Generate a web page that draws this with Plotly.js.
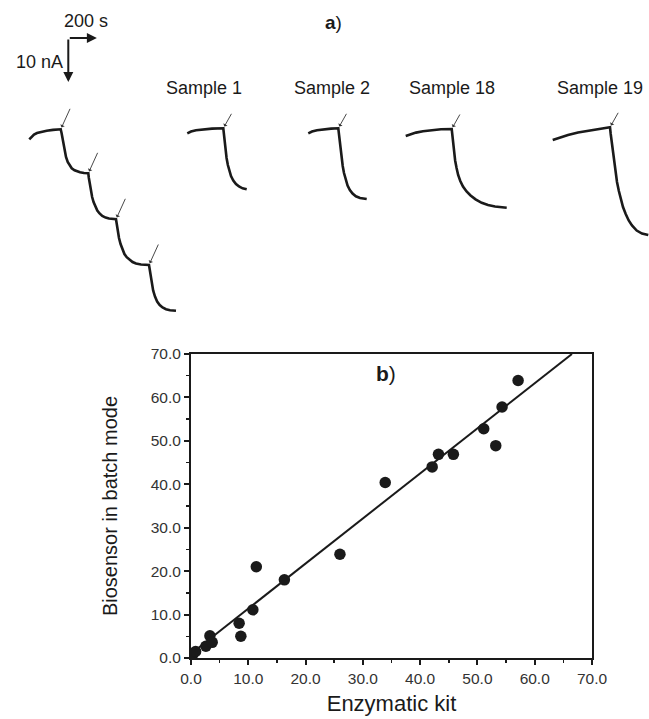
<!DOCTYPE html>
<html>
<head>
<meta charset="utf-8">
<script src="https://cdn.plot.ly/plotly-3.0.1.min.js"></script>
<style>html,body{margin:0;padding:0;background:#fff;}#chart{width:649px;height:719px;}</style>
</head>
<body>
<div id="chart"></div>
<script>
// ---------- panel a) amperometric traces (time in s, current in nA, downward = increasing) ----------
const calibTime = [205, 221, 238, 259, 287, 327, 371, 425,
  431, 438, 445, 453, 462, 474, 487, 502, 522, 543, 560, 588, 618,
  622, 629, 636, 645, 655, 667, 681, 697, 716, 739, 763, 812,
  817, 824, 833, 844, 856, 871, 887, 907, 928, 952, 987, 1043,
  1048, 1055, 1063, 1072, 1085, 1100, 1118, 1138, 1162, 1190, 1232];
const calibCurrent = [31.66, 31.02, 30.57, 30.23, 29.95, 29.70, 29.52, 29.39,
  30.23, 31.59, 33.18, 34.55, 35.68, 36.82, 37.61, 38.25, 38.70, 39.00, 39.16, 39.32, 39.39,
  40.45, 41.82, 43.41, 44.77, 45.91, 46.93, 47.84, 48.52, 49.09, 49.45, 49.68, 49.84,
  50.91, 52.50, 54.09, 55.45, 56.70, 57.73, 58.45, 59.09, 59.55, 59.89, 60.11, 60.23,
  61.36, 62.95, 64.55, 66.02, 67.39, 68.52, 69.32, 69.89, 70.27, 70.50, 70.61];
const calibInjectionTimes = [425, 618, 812, 1043];

const sampleNames = ["Sample 1", "Sample 2", "Sample 18", "Sample 19"];
const sample1Time = [1311, 1337, 1372, 1421, 1484, 1563, 1567, 1573, 1579, 1586, 1595, 1605, 1617, 1633, 1652, 1673, 1698, 1727];
const sample1Current = [30.30, 29.89, 29.59, 29.36, 29.23, 29.16, 30.45, 32.27, 34.09, 35.91, 37.50, 38.86, 40.00, 41.02, 41.82, 42.39, 42.80, 43.02];
const sample2Time = [2158, 2184, 2219, 2268, 2317, 2368, 2372, 2378, 2384, 2391, 2399, 2408, 2419, 2433, 2449, 2468, 2491, 2520, 2567];
const sample2Current = [30.30, 29.89, 29.59, 29.36, 29.23, 29.16, 30.45, 32.27, 34.09, 35.91, 37.73, 39.32, 40.91, 42.16, 43.18, 43.98, 44.61, 45.00, 45.23];
const sample18Time = [2840, 2870, 2912, 2961, 3024, 3087, 3162, 3166, 3172, 3178, 3186, 3196, 3207, 3222, 3241, 3266, 3294, 3329, 3372, 3416, 3465, 3547];
const sample18Current = [30.91, 30.52, 30.14, 29.84, 29.55, 29.39, 29.32, 30.68, 32.50, 34.55, 36.48, 38.18, 39.77, 41.14, 42.39, 43.52, 44.43, 45.30, 46.09, 46.59, 46.93, 47.20];
const sample19Time = [3869, 3920, 3976, 4046, 4130, 4200, 4270, 4275, 4282, 4290, 4298, 4308, 4319, 4332, 4346, 4361, 4380, 4401, 4424, 4457, 4494, 4538];
const sample19Current = [31.82, 31.25, 30.68, 30.11, 29.61, 29.25, 28.93, 30.45, 32.27, 34.55, 36.82, 39.09, 41.36, 43.41, 45.34, 47.05, 48.64, 50.11, 51.25, 52.39, 53.07, 53.41];

// scale bar
const scaleTime = 200;      // s
const scaleCurrent = 10;    // nA

// ---------- panel b) correlation ----------
const enzymaticKit = [0.3, 0.8, 2.6, 3.3, 3.7, 8.4, 8.7, 10.8, 11.4, 16.3, 26.0, 33.9, 42.1, 43.2, 45.8, 51.1, 53.2, 54.3, 57.1];
const biosensorBatch = [0.8, 1.5, 2.7, 5.1, 3.6, 8.0, 5.0, 11.1, 21.0, 18.0, 23.9, 40.4, 44.0, 46.9, 46.9, 52.8, 48.9, 57.8, 63.9];
const fitX = [0, 66.5];
const fitY = [1.0, 70.0];
const tickVals = [0, 10, 20, 30, 40, 50, 60, 70];
const tickText = ["0.0", "10.0", "20.0", "30.0", "40.0", "50.0", "60.0", "70.0"];

const FONT = "Liberation Sans, Arial, Helvetica, sans-serif";
const INK = "#1a1a1a";

const traceLine = {color: INK, width: 2.6};
const sampleTimes = [sample1Time, sample2Time, sample18Time, sample19Time];
const sampleCurrents = [sample1Current, sample2Current, sample18Current, sample19Current];

const data = [
  {x: calibTime, y: calibCurrent, type: "scatter", mode: "lines", line: traceLine, xaxis: "x2", yaxis: "y2", hoverinfo: "skip"}
];
sampleTimes.forEach((t, k) => {
  data.push({x: t, y: sampleCurrents[k], type: "scatter", mode: "lines", line: traceLine, xaxis: "x2", yaxis: "y2", name: sampleNames[k], hoverinfo: "skip"});
});
data.push({x: fitX, y: fitY, type: "scatter", mode: "lines", line: {color: INK, width: 2}});
data.push({x: enzymaticKit, y: biosensorBatch, type: "scatter", mode: "markers", marker: {color: INK, size: 11.5}});

const annotations = [];
// injection arrows
calibInjectionTimes.forEach(tInj => {
  const i = calibTime.indexOf(tInj);
  annotations.push({x: calibTime[i], y: calibCurrent[i], xref: "x2", yref: "y2", text: "", showarrow: true,
    ax: 10, ay: -22, arrowhead: 1, arrowsize: 0.9, arrowwidth: 0.9, arrowcolor: "#333", standoff: 2});
});
sampleTimes.forEach((t, k) => {
  const c = sampleCurrents[k];
  const i = c.indexOf(Math.min(...c));
  annotations.push({x: t[i], y: c[i], xref: "x2", yref: "y2", text: "", showarrow: true,
    ax: 9, ay: -16, arrowhead: 1, arrowsize: 0.9, arrowwidth: 0.9, arrowcolor: "#333", standoff: 2});
});
// sample labels
const labelX = [1428, 2322, 3162, 4200];
sampleNames.forEach((n, k) => {
  annotations.push({x: labelX[k], y: 20.0, xref: "x2", yref: "y2", text: n, showarrow: false,
    font: {family: FONT, size: 18, color: INK}, xanchor: "center", yanchor: "middle"});
});
// scale bar
const sbT = 478, sbI = 8.64;
annotations.push({x: sbT + scaleTime, y: sbI, ax: sbT, ay: sbI, xref: "x2", yref: "y2", axref: "x2", ayref: "y2",
  text: "", showarrow: true, arrowhead: 2, arrowsize: 1, arrowwidth: 2, arrowcolor: INK});
annotations.push({x: sbT, y: sbI + scaleCurrent, ax: sbT, ay: sbI, xref: "x2", yref: "y2", axref: "x2", ayref: "y2",
  text: "", showarrow: true, arrowhead: 2, arrowsize: 1, arrowwidth: 2, arrowcolor: INK});
annotations.push({x: 600, y: 4.8, xref: "x2", yref: "y2", text: scaleTime + " s", showarrow: false,
  font: {family: FONT, size: 18, color: INK}, xanchor: "center", yanchor: "middle"});
annotations.push({x: 455, y: 14.0, xref: "x2", yref: "y2", text: scaleCurrent + " nA", showarrow: false,
  font: {family: FONT, size: 18, color: INK}, xanchor: "right", yanchor: "middle"});
// panel letters
annotations.push({x: 333 / 649, y: 1 - 22 / 719, xref: "paper", yref: "paper", text: "<b>a</b>)", showarrow: false,
  font: {family: FONT, size: 19, color: INK}, xanchor: "center", yanchor: "middle"});
annotations.push({x: 34, y: 65.6, xref: "x", yref: "y", text: "<b>b</b>)", showarrow: false,
  font: {family: FONT, size: 21, color: INK}, xanchor: "center", yanchor: "middle"});

const axisCommon = {
  range: [0, 70], tickvals: tickVals, ticktext: tickText,
  showline: true, linecolor: INK, linewidth: 2, mirror: true,
  ticks: "outside", ticklen: 5, tickwidth: 2, tickcolor: INK,
  minor: {dtick: 5, ticks: "outside", ticklen: 3, tickwidth: 1.5, tickcolor: INK, showgrid: false},
  showgrid: false, zeroline: false,
  tickfont: {family: FONT, size: 15.5, color: "#333"}
};

const layout = {
  width: 649, height: 719,
  margin: {l: 0, r: 0, t: 0, b: 0},
  paper_bgcolor: "#fff", plot_bgcolor: "rgba(0,0,0,0)",
  showlegend: false,
  font: {family: FONT, color: INK},
  xaxis: Object.assign({}, axisCommon, {domain: [191 / 649, 592 / 649], anchor: "y",
    title: {text: "Enzymatic kit", font: {family: FONT, size: 22, color: INK}, standoff: 10}}),
  yaxis: Object.assign({}, axisCommon, {domain: [1 - 658 / 719, 1 - 354 / 719], anchor: "x",
    title: {text: "Biosensor in batch mode", font: {family: FONT, size: 20, color: INK}, standoff: 28}}),
  xaxis2: {domain: [0, 1], range: [0, 4543], anchor: "y2", visible: false, fixedrange: true},
  yaxis2: {domain: [1 - 320 / 719, 1], range: [72.727, 0], anchor: "x2", visible: false, fixedrange: true},
  annotations: annotations
};

Plotly.newPlot("chart", data, layout, {displayModeBar: false, staticPlot: true});
</script>
</body>
</html>
